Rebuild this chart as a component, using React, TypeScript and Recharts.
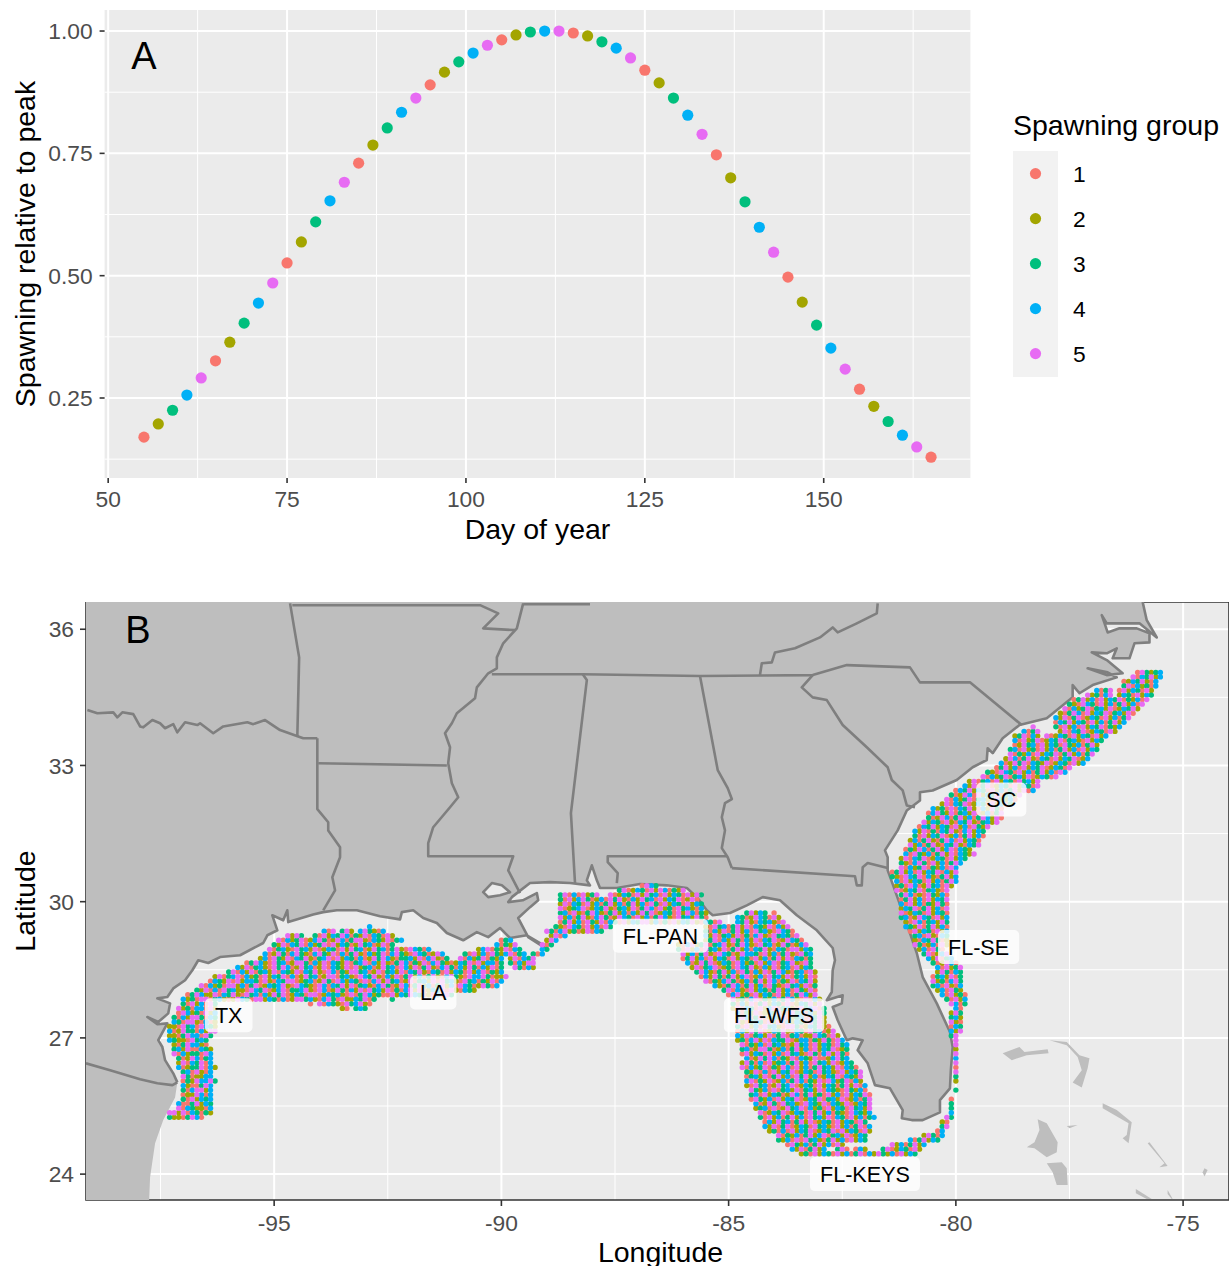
import React from 'react';
import {
  ScatterChart, Scatter, XAxis, YAxis, CartesianGrid, Legend, ReferenceArea,
} from 'recharts';

const FONT = "'Liberation Sans', Arial, sans-serif";
const GROUPS = [1, 2, 3, 4, 5];
const GROUP_COLORS = ['#F8766D', '#A3A500', '#00BF7D', '#00B0F6', '#E76BF3'];

// panel A
const DAYS = [55, 57, 59, 61, 63, 65, 67, 69, 71, 73, 75, 77, 79, 81, 83, 85, 87, 89, 91, 93, 95, 97, 99, 101, 103, 105, 107, 109, 111, 113, 115, 117, 119, 121, 123, 125, 127, 129, 131, 133, 135, 137, 139, 141, 143, 145, 147, 149, 151, 153, 155, 157, 159, 161, 163, 165];
const RELATIVE = [0.17, 0.197, 0.225, 0.256, 0.291, 0.326, 0.364, 0.403, 0.444, 0.485, 0.526, 0.569, 0.61, 0.653, 0.691, 0.73, 0.767, 0.802, 0.834, 0.863, 0.89, 0.916, 0.937, 0.955, 0.971, 0.982, 0.992, 0.998, 1, 1, 0.996, 0.99, 0.978, 0.965, 0.945, 0.92, 0.894, 0.863, 0.828, 0.789, 0.747, 0.7, 0.651, 0.599, 0.548, 0.497, 0.446, 0.399, 0.352, 0.309, 0.268, 0.233, 0.202, 0.174, 0.15, 0.129];
const DAY_GROUPS = [1, 2, 3, 4, 5, 1, 2, 3, 4, 5, 1, 2, 3, 4, 5, 1, 2, 3, 4, 5, 1, 2, 3, 4, 5, 1, 2, 3, 4, 5, 1, 2, 3, 4, 5, 1, 2, 3, 4, 5, 1, 2, 3, 4, 5, 1, 2, 3, 4, 5, 1, 2, 3, 4, 5, 1];
const DAY_TICKS = [50, 75, 100, 125, 150];
const DAY_MINOR = [62.5, 87.5, 112.5, 137.5, 162.5];
const REL_TICKS = [0.25, 0.5, 0.75, 1];
const REL_MINOR = [0.125, 0.375, 0.625, 0.875];

// panel B axes
const LON_TICKS = [-95, -90, -85, -80, -75];
const LON_MINOR = [-97.5, -92.5, -87.5, -82.5, -77.5];
const LAT_TICKS = [24, 27, 30, 33, 36];
const LAT_MINOR = [25.5, 28.5, 31.5, 34.5];

const REGION_NAMES = ['TX', 'LA', 'FL-PAN', 'FL-WFS', 'FL-KEYS', 'FL-SE', 'SC'];
const REGION_LONS = [-96, -91.5, -86.5, -84, -82, -79.5, -79];
const REGION_LATS = [27.5, 28, 29.25, 27.5, 24, 29, 32.25];

// outlines, flat lon,lat lists
const RIO_GRANDE = [-99.14, 26.44, -98.61, 26.29, -97.95, 26.09, -97.57, 26.0, -97.24, 25.96, -97.13, 26.02];
const MEXICO_COAST = [-97.18, 25.69, -97.44, 25.19, -97.62, 24.68, -97.73, 23.93, -97.75, 23.43, -99.14, 23.43];
const US_COAST = [-97.13, 26.02, -97.22, 26.22, -97.4, 26.51, -97.46, 26.8, -97.55, 26.95, -97.35, 27.32, -97.57, 27.3, -97.79, 27.46, -97.55, 27.35, -97.33, 27.54, -97.29, 27.76, -97.57, 27.87, -97.35, 27.9, -97.22, 28.09, -96.96, 28.27, -96.8, 28.49, -96.67, 28.71, -96.45, 28.65, -96.19, 28.78, -95.75, 28.82, -95.24, 29.09, -95.15, 29.26, -94.93, 29.37, -95.04, 29.7, -94.8, 29.59, -94.71, 29.81, -94.69, 29.55, -94.14, 29.72, -93.92, 29.77, -93.62, 29.81, -93.18, 29.81, -92.67, 29.68, -92.23, 29.61, -92.19, 29.77, -91.94, 29.81, -91.72, 29.64, -91.42, 29.53, -91.2, 29.31, -90.84, 29.15, -90.54, 29.33, -90.29, 29.22, -90.03, 29.42, -89.81, 29.2, -89.44, 29.26, -89.15, 29.09, -89.04, 28.98, -89.41, 29.22, -89.63, 29.64, -89.37, 29.88, -89.19, 30.03, -89.22, 30.19, -89.53, 30.03, -89.85, 29.99, -89.77, 30.1, -89.63, 30.21, -89.37, 30.41, -88.93, 30.43, -88.49, 30.41, -88.05, 30.36, -88.12, 30.47, -88.01, 30.8, -87.9, 30.47, -87.83, 30.3, -87.46, 30.3, -86.95, 30.39, -86.36, 30.36, -85.92, 30.3, -85.7, 30.1, -85.48, 29.81, -85.35, 29.7, -84.97, 29.75, -84.6, 29.92, -84.25, 30.1, -83.87, 30.03, -83.5, 29.7, -83.06, 29.37, -82.71, 28.98, -82.66, 28.71, -82.71, 28.49, -82.73, 28.01, -82.84, 27.83, -82.49, 27.94, -82.51, 27.76, -82.71, 27.68, -82.6, 27.39, -82.4, 26.95, -82.27, 26.99, -82.05, 26.95, -82.16, 26.73, -81.94, 26.44, -81.78, 25.96, -81.45, 25.89, -81.17, 25.41, -81.19, 25.23, -80.97, 25.19, -80.73, 25.19, -80.35, 25.36, -80.35, 25.63, -80.13, 25.89, -80.11, 26.29, -80.07, 26.8, -80.13, 27.13, -80.42, 27.76, -80.73, 28.34, -80.86, 28.87, -81.01, 29.31, -81.34, 30.25, -81.5, 30.69, -81.5, 30.98, -81.56, 31.13, -81.28, 31.57, -81.08, 32.01, -80.79, 32.23, -80.79, 32.41, -80.51, 32.45, -79.98, 32.68, -79.63, 32.96, -79.32, 33.12, -79.3, 33.38, -79.19, 33.27, -78.97, 33.6, -78.6, 33.89, -78.0, 34.04, -77.43, 34.5, -77.43, 34.77, -77.28, 34.59, -76.99, 34.77, -76.46, 34.94, -76.66, 35.05, -77.1, 35.14, -76.68, 34.99, -76.33, 35.03, -76.68, 35.32, -77.01, 35.49, -76.68, 35.47, -76.46, 35.58, -76.55, 35.36, -76.18, 35.36, -76.07, 35.69, -75.74, 35.71, -75.74, 35.91, -76.02, 36.02, -76.4, 36.02, -76.66, 35.93, -76.79, 36.31, -76.68, 36.13, -76.33, 36.13, -75.96, 36.13, -75.58, 35.82, -75.8, 36.2, -75.89, 36.6];
const LAKE = [-90.4, 30.21, -90.21, 30.41, -89.99, 30.36, -89.81, 30.21, -90.03, 30.14, -90.29, 30.1];
const STATE_LINES = [
  [-99.11, 34.22, -98.89, 34.15, -98.54, 34.17, -98.45, 34.06, -98.34, 34.17, -98.1, 34.13, -97.95, 33.86, -97.88, 33.84, -97.68, 34.0, -97.51, 33.93, -97.4, 33.82, -97.22, 33.91, -97.13, 33.73, -96.96, 33.95, -96.69, 33.89, -96.63, 33.93, -96.34, 33.71, -96.12, 33.86, -95.59, 33.95, -95.46, 33.91, -95.2, 34.0, -94.87, 33.78, -94.47, 33.64, -94.36, 33.6, -94.05, 33.6],
  [-94.05, 33.6, -94.05, 32.04, -93.81, 31.75, -93.81, 31.57, -93.55, 31.2, -93.55, 30.98, -93.72, 30.54, -93.66, 30.25, -93.92, 29.81],
  [-94.65, 36.57, -94.45, 35.38, -94.49, 33.64],
  [-94.03, 33.05, -91.2, 33.0],
  [-94.6, 36.53, -90.47, 36.53, -90.07, 36.35, -90.4, 36.02, -89.7, 35.98],
  [-89.52, 36.57, -89.66, 36.02, -89.96, 35.69, -90.1, 35.38, -90.1, 35.14, -90.29, 35.03, -90.54, 34.72, -90.58, 34.48, -90.98, 34.15, -91.09, 33.93, -91.24, 33.71, -91.13, 33.4, -91.17, 33.05, -91.09, 32.61, -90.95, 32.3, -91.13, 32.08, -91.5, 31.64, -91.61, 31.29, -91.61, 31.0, -89.74, 31.0, -89.85, 30.69, -89.59, 30.19],
  [-89.52, 36.55, -88.05, 36.55],
  [-90.21, 35.01, -88.21, 35.01, -85.63, 34.97, -83.15, 34.99, -82.4, 35.21, -81.01, 35.16, -80.79, 34.83, -79.69, 34.83, -78.55, 33.89],
  [-83.15, 34.99, -83.39, 34.72, -83.15, 34.5, -82.84, 34.44, -82.49, 33.89, -81.96, 33.4, -81.5, 32.96, -81.41, 32.68, -81.17, 32.45, -81.08, 32.12, -80.9, 32.08],
  [-84.31, 34.99, -84.27, 35.25, -84.05, 35.27, -83.98, 35.49, -83.54, 35.58, -82.99, 35.82, -82.71, 36.04, -82.6, 35.93, -82.18, 36.13, -81.74, 36.35, -81.72, 36.57],
  [-88.21, 35.01, -88.12, 34.88, -88.47, 31.95, -88.38, 30.41],
  [-85.63, 34.97, -85.24, 32.9, -85.02, 32.5, -84.93, 32.26, -85.08, 32.17, -85.15, 31.86, -85.08, 31.57, -85.15, 31.18, -85.02, 30.98, -84.93, 30.74],
  [-87.46, 30.41, -87.44, 30.63, -87.66, 30.87, -87.66, 31.0, -85.04, 31.0],
  [-84.93, 30.74, -82.22, 30.56, -82.18, 30.36, -82.07, 30.36, -82.05, 30.76, -81.94, 30.85, -81.5, 30.74],
];
const BAHAMAS = [
  [-78.97, 26.66, -78.6, 26.8, -78.49, 26.69, -77.98, 26.75, -77.96, 26.66, -78.44, 26.62, -78.77, 26.51],
  [-77.94, 26.95, -77.56, 26.91, -77.28, 26.62, -77.06, 26.55, -77.1, 26.33, -77.23, 25.91, -77.43, 26.02, -77.23, 26.29, -77.32, 26.58, -77.56, 26.84],
  [-76.77, 25.56, -76.46, 25.41, -76.13, 25.14, -76.2, 24.68, -76.33, 24.79, -76.24, 24.86, -76.2, 25.12, -76.77, 25.45],
  [-78.2, 25.21, -78.0, 25.12, -77.76, 24.7, -77.78, 24.48, -78.0, 24.37, -78.27, 24.57, -78.44, 24.59, -78.27, 24.7, -78.16, 24.97],
  [-78.0, 24.24, -77.67, 24.26, -77.56, 24.13, -77.54, 23.76, -77.78, 23.76, -77.87, 24.04],
  [-77.56, 25.06, -77.32, 25.08, -77.5, 25.01],
  [-75.74, 24.7, -75.34, 24.18, -75.52, 24.15, -75.41, 24.24, -75.78, 24.68],
  [-76.04, 23.67, -75.69, 23.45, -75.8, 23.45, -76.04, 23.58],
  [-75.34, 23.65, -75.23, 23.45, -75.25, 23.45, -75.34, 23.56],
  [-74.53, 24.13, -74.46, 24.09, -74.53, 23.95, -74.57, 24.04],
];

// sampled cells, read row by row: [lat, first lon, spawning group of each 0.1 degree cell]
type CellRow = [number, number, string];
const GULF_WEST: CellRow[] = [
  [25.25, -97.3, '32213541'], [25.35, -97.3, '5525143132'], [25.45, -97.1, '51432214'], [25.55, -97.1, '41135243'],
  [25.65, -97.0, '3152434'], [25.75, -97.0, '1225414'], [25.85, -97.0, '3145524'], [25.95, -97.0, '4211354'],
  [26.05, -97.0, '13254453'], [26.15, -97.0, '5312244'], [26.25, -97.0, '3415214'], [26.35, -97.1, '412335142'],
  [26.45, -97.1, '25143514'], [26.55, -97.1, '31254134'], [26.65, -97.2, '514233154'], [26.75, -97.2, '342511432'],
  [26.85, -97.2, '21354421'], [26.95, -97.3, '432215343'], [27.05, -97.3, '2213544153'], [27.15, -97.3, '41253314255'],
  [27.25, -97.3, '22153415432'], [27.35, -97.2, '4315521412'], [27.45, -97.2, '3142553143'], [27.55, -97.1, '154231524'],
  [27.65, -97.1, '523144152'], [27.65, -93.5, '21'], [27.65, -93.2, '343'],
  [27.75, -97.0, '31524153'], [27.75, -94.2, '1'], [27.75, -94.0, '514321534521'],
  [27.85, -97.0, '4231551342 1254315524 3141255342 1453152243 513'], [27.85, -92.4, '3'],
  [27.95, -96.9, '1354225143 5215341425 3512431551 2434215135 4231152435 431254153'],
  [28.05, -96.7, '3251415342 2154351245 1334521541 2531425153 4251314525 1243515214 32'],
  [28.15, -96.6, '5142315524 1351243452 1543215414 3525134214 5312541352 4135241543 125314'],
  [28.25, -96.4, '1432515244 3152143551 2341253154 2431514525 3412513425 1534215341 32514'],
  [28.35, -96.3, '2513451423 1524351412 5341255134 2154352142 5135241352 1453215445 31225'],
  [28.45, -96.0, '3514251342 5143251435 2154132553 4125134251 4352143152 4315245132 4'],
  [28.55, -95.8, '4251342153 5412534125 1432515234 1253415425 1352145314 253142513'], [28.55, -89.7, '53142'],
  [28.65, -95.6, '1354215341 2553142514 3251345142 5213541325 1453212435 1524413'], [28.65, -89.8, '314255'],
  [28.75, -95.3, '2415325143 5213451524 3141253542 1334251452 13'], [28.75, -90.9, '5142351324'], [28.75, -89.8, '251435'],
  [28.85, -95.2, '4125314532 1453251413 5214235145 3215431254'], [28.85, -90.8, '31524153245134'], [28.85, -89.3, '314'],
  [28.95, -95.1, '5134215342 5124315253 4125341352 154314'], [28.95, -90.5, '2451325143'], [28.95, -89.1, '43'],
  [29.05, -95.0, '3251435142 3515243125 3412513'], [29.05, -90.1, '41325'], [29.05, -89.1, '513'],
  [29.15, -94.9, '5142351245 3125413552 14325134'], [29.15, -90.0, '134'], [29.15, -89.0, '254'],
  [29.25, -94.7, '5253'], [29.25, -94.1, '3152435413 25143152'], [29.25, -88.9, '2514'],
  [29.35, -93.9, '415'], [29.35, -93.5, '352'], [29.35, -93.1, '453214'], [29.45, -92.9, '4'],
];
const GULF_PAN: CellRow[] = [
  [29.35, -89.0, '5314523125 143'], [29.45, -88.8, '3215431524 153'],
  [29.55, -88.7, '1352415325 1431524355 2413152435 214'],
  [29.65, -88.7, '5241352145 3125431524 1354215342 531'],
  [29.75, -88.7, '3415213542 1352414253 5124315254 132'],
  [29.85, -88.7, '5123451243 5213425135 4152315342 14'],
  [29.95, -88.7, '2514315241 3524135241 5315243152 43'],
  [30.05, -88.7, '3152453124 1535214253 4152435125 1'],
  [30.15, -88.7, '351'], [30.15, -88.4, '415235'], [30.15, -87.6, '5124315253 4152431525 3'],
  [30.25, -87.4, '351243152541325'], [30.35, -86.9, '1543'],
];
const WFS: CellRow[] = [
  [29.75, -84.6, '35243'], [29.75, -84.0, '1'], [29.65, -84.8, '4312543152'],
  [29.55, -85.5, '2315'], [29.55, -84.8, '43521434215'],
  [29.45, -85.5, '2153413525 143251425'], [29.35, -85.5, '3142513524 1534215431'],
  [29.25, -85.5, '4251342513 1452153431 5'], [29.15, -85.5, '2351425314 2514351254 31'],
  [29.05, -86.1, '2145235134 5213542153 412531245'],
  [28.95, -86.1, '3152415342 5135241435 2143155243'],
  [28.85, -86.0, '5241352154 3125443152 413521534'],
  [28.75, -86.0, '1352415243 1524315241 352514313'],
  [28.65, -85.9, '4125351243 1542315245 13452153'],
  [28.55, -85.8, '2513451231 5435214251 3415243'],
  [28.45, -85.7, '3542135241 5314251354 2134152'],
  [28.35, -85.6, '1425313524 5124153425 134251'],
  [28.25, -85.5, '5132453124 1352541325 14352'],
  [28.15, -85.3, '4213541352 4153215342 513'],
  [28.05, -85.1, '3514215243 1352415325 1'],
  [27.95, -85.0, '1452315243 1524135425'],
  [27.85, -84.9, '5231451324 1354215142'],
  [27.75, -84.9, '3142513524 3151243525'],
  [27.65, -84.9, '2514315245 1342153451 3'],
  [27.55, -84.8, '4132512435 2153414253'],
  [27.45, -84.8, '2541351243 5123415352'],
  [27.35, -84.8, '5213431525 1424315352'],
  [27.25, -84.8, '3152415342 1553124352 1'],
  [27.15, -84.8, '1425351243 5214315341 25'],
  [27.05, -84.8, '4251342513 5134122543 152'],
  [26.95, -84.8, '2314525143 3512441325 3154'],
  [26.85, -84.7, '5132415342 1253415243 1534'],
  [26.75, -84.7, '3412553124 1352415243 5123'],
  [26.65, -84.7, '1524315241 5342153145 2531'],
  [26.55, -84.6, '4125354132 5143251124 534'],
  [26.45, -84.7, '2531415234 1352415342 51243'],
  [26.35, -84.7, '5142351325 4152413534 251431'],
  [26.25, -84.6, '3251415243 5124315342 152435'],
  [26.15, -84.6, '1342513524 1535241243 514325'],
  [26.05, -84.6, '4513251241 3541325154 235142'],
  [25.95, -84.6, '2153412534 5124315243 1352514'],
  [25.85, -84.5, '5324151342 5134251432 153241'],
  [25.75, -84.5, '3415243125 4135231524 1524351'],
  [25.65, -84.5, '1532415243 5124351342 5124135'],
  [25.55, -84.4, '4125315342 1543251432 512435'],
  [25.45, -84.4, '2341512534 5142315243 153425'],
  [25.35, -84.3, '5124351243 1535241321 54324'],
  [25.25, -84.3, '3152413524 1534251431 524134'],
  [25.15, -84.2, '1425341352 5124315243 153'],
  [25.05, -84.2, '4251351243 1534215241 3514'],
  [24.95, -84.1, '2314152435 1243515243 152'],
  [24.85, -83.9, '5132413524 5134251243'],
  [24.75, -83.9, '3241515342 1352415243'],
  [24.65, -83.7, '153241352'], [24.65, -82.8, '4152'],
  [24.55, -83.6, '42513524'], [24.55, -82.6, '351'],
  [24.45, -83.4, '2315243152 4135142532 415243'],
];
const KEYS_SOUTHEAST: CellRow[] = [
  [24.55, -82.2, '142'], [24.55, -81.6, '351243152'], [24.65, -81.4, '52413524'],
  [24.75, -81.0, '4135243'], [24.85, -80.7, '25314'], [24.95, -80.4, '14'], [25.05, -80.3, '35'],
  [25.15, -80.3, '21'], [25.25, -80.2, '53'], [25.35, -80.1, '4'], [25.45, -80.1, '3'], [25.55, -80.1, '3'], [25.65, -80.1, '1'],
  [25.85, -80.0, '3'], [26.05, -80.0, '2'], [26.15, -80.0, '3'], [26.25, -80.0, '5'], [26.35, -80.0, '1'], [26.45, -80.0, '5'],
  [26.55, -80.0, '4'], [26.65, -80.0, '5'], [26.75, -80.0, '2'], [26.85, -80.0, '5'], [26.95, -80.0, '5'],
  [27.05, -80.1, '35'], [27.15, -80.1, '425'], [27.25, -80.1, '143'], [27.35, -80.1, '521'], [27.45, -80.1, '342'],
  [27.55, -80.1, '253'], [27.65, -80.0, '41'], [27.75, -80.1, '5413'], [27.85, -80.2, '31524'], [27.95, -80.3, '415231'],
  [28.05, -80.4, '241532'], [28.15, -80.5, '3415214'], [28.25, -80.5, '5231453'], [28.35, -80.5, '1342513'],
  [28.45, -80.4, '253143'], [28.55, -80.4, '415235'], [28.65, -80.5, '312541'],
  [28.75, -80.6, '425134'], [28.85, -80.7, '351245'], [28.95, -80.8, '241531'],
  [29.05, -80.9, '53124152'], [29.15, -80.9, '21435312'], [29.25, -80.9, '34152143'],
  [29.35, -81.0, '152431524'], [29.45, -81.1, '4325135241'], [29.55, -81.1, '2154134253'],
  [29.65, -81.2, '3412543152 4'], [29.75, -81.2, '5124315243 1'], [29.85, -81.2, '2435135241 5'],
  [29.95, -81.2, '4152413253 1'], [30.05, -81.2, '1352415243 5'], [30.15, -81.2, '3541215324 1'],
  [30.25, -81.3, '5124351342 15'], [30.35, -81.3, '2315412534 152'], [30.45, -81.3, '4152431524 1354'],
  [30.55, -81.4, '3215435142 13524'], [30.65, -81.4, '1352415243 51425'], [30.75, -81.2, '5142351324 154'],
  [30.85, -81.2, '3214531524 1354'], [30.95, -81.2, '2514351243 15243'],
  [31.05, -81.1, '4153241352 514325'], [31.15, -81.1, '1325413524 51432'],
  [31.25, -81.0, '5241352143 521435'], [31.35, -81.0, '2413521354 152431'],
  [31.45, -80.9, '3152435124 135241'], [31.55, -80.9, '4251314352 145243'],
  [31.65, -80.8, '1435243152 415325'], [31.75, -80.7, '5243152143 5213425'],
  [31.85, -80.6, '3125413524 1354251'], [31.95, -80.6, '1453251342 5124135'],
  [32.05, -80.5, '4231514352 142531'], [32.15, -80.3, '2514351243 152413'],
  [32.25, -80.2, '5142351342 153241'], [32.35, -80.1, '3125415243 513425'],
  [32.45, -80.0, '1435243152 41352514'], [32.55, -79.8, '4251351243 1524315'],
  [32.65, -79.7, '2513415243 153425'], [32.75, -79.4, '5142351342 5124315'],
  [32.85, -79.3, '3215431524 13524154'], [32.95, -79.1, '1352415243 5124315'],
  [33.05, -79.0, '4125351432 512431524'], [33.15, -78.9, '2541352143 152435124'],
  [33.25, -78.8, '5132415243 513524135'], [33.35, -78.8, '3415231524 1352415243'],
  [33.45, -78.7, '1253415243 153241352'], [33.55, -78.7, '4152351243 5134215243'],
  [33.65, -78.7, '235142'], [33.65, -78.0, '51243152431524'],
  [33.75, -78.5, '4135'], [33.75, -77.7, '2514351243 152'],
  [33.85, -78.3, '5'], [33.85, -77.8, '3152415243 51324'],
  [33.95, -77.8, '1435243152 413524'], [34.05, -77.8, '4251351243 1524135'],
  [34.15, -77.7, '2135415243 5134251'], [34.25, -77.6, '5142351342 5124352'],
  [34.35, -77.5, '3215431524 1352415'], [34.45, -77.4, '1352415243 5132415'],
  [34.55, -77.1, '523145'], [34.55, -76.4, '24315243'],
  [34.65, -76.9, '4135'], [34.65, -76.4, '15243152'],
  [34.75, -76.3, '35142314'], [34.85, -76.3, '12435214'],
  [34.95, -76.1, '5143524'], [35.05, -76.0, '153234'],
];

function chunk(flat: number[]) {
  const out: { lon: number; lat: number }[] = [];
  for (let i = 0; i < flat.length; i += 2) out.push({ lon: flat[i], lat: flat[i + 1] });
  return out;
}

const cells = [...GULF_WEST, ...GULF_PAN, ...WFS, ...KEYS_SOUTHEAST].flatMap(([lat, lon0, groups]) =>
  groups.replace(/ /g, '').split('').map((g, i) => ({ lon: lon0 + i * 0.1, lat, group: Number(g) })),
);

const dayPoints = DAYS.map((day, i) => ({ day, rel: RELATIVE[i], group: DAY_GROUPS[i] }));
const regions = REGION_NAMES.map((name, i) => ({ name, lon: REGION_LONS[i], lat: REGION_LATS[i] }));

const noDot = () => <g />;

const outline = (fill: string, stroke: string, close: boolean) => (props: any) => {
  const d = props.points.map((p: any, i: number) => `${i ? 'L' : 'M'}${p.x},${p.y}`).join('') + (close ? 'Z' : '');
  return <path d={d} fill={fill} stroke={stroke} strokeWidth={stroke === 'none' ? 0 : 2.6} strokeLinejoin="round" />;
};

const canvas = document.createElement('canvas').getContext('2d');
function RegionLabel(props: any) {
  const { cx, cy, payload } = props;
  let w = payload.name.length * 13;
  if (canvas) {
    canvas.font = `21.6px ${FONT}`;
    w = canvas.measureText(payload.name).width;
  }
  return (
    <g>
      <rect x={cx - w / 2 - 10} y={cy - 17} width={w + 20} height={34} rx={5} fill="#fff" fillOpacity={0.8} />
      <text x={cx} y={cy} dy="0.36em" textAnchor="middle" fontSize={21.6} fill="#000">{payload.name}</text>
    </g>
  );
}

const panelLetter = (letter: string) => (props: any) => (
  <text x={props.cx} y={props.cy} dy="0.36em" textAnchor="middle" fontSize={38} fill="#000">{letter}</text>
);

function GroupLegend() {
  return (
    <div style={{ fontFamily: FONT, color: '#000' }}>
      <div style={{ fontSize: 28.5, lineHeight: '34px', marginBottom: 9 }}>Spawning group</div>
      <svg width={120} height={228} style={{ display: 'block' }}>
        <rect x={0} y={0} width={45} height={226} fill="#F2F2F2" />
        {GROUPS.map((g, i) => (
          <g key={g}>
            <circle cx={22.5} cy={22.6 + i * 45} r={5.6} fill={GROUP_COLORS[i]} />
            <text x={60} y={22.6 + i * 45} dy="0.36em" fontSize={22.8}>{g}</text>
          </g>
        ))}
      </svg>
    </div>
  );
}

const tickStyle = { fontSize: 22.8, fill: '#4D4D4D' };
const tickLine = { stroke: '#333', strokeWidth: 1.6 };
const titleStyle = { fontSize: 28.5, fill: '#000' };

export default function App() {
  return (
    <div style={{ position: 'absolute', left: 0, top: 0, width: 1229, height: 1266, background: '#fff', fontFamily: FONT, overflow: 'hidden' }}>
      <div style={{ position: 'absolute', left: 0, top: 0 }}>
        <ScatterChart width={1229} height={560} margin={{ top: 10, right: 258.6, bottom: 0, left: 0 }}>
          <XAxis
            type="number" dataKey="day" domain={[49.5, 170.5]} ticks={DAY_TICKS} interval={0} height={82} allowDataOverflow
            axisLine={false} tickLine={tickLine} tickSize={5} tickMargin={8} tick={tickStyle}
            label={{ value: 'Day of year', position: 'insideBottom', offset: 21, style: titleStyle }}
          />
          <YAxis
            type="number" dataKey="rel" domain={[0.0865, 1.043]} ticks={REL_TICKS} interval={0} width={104.6} allowDataOverflow
            axisLine={false} tickLine={tickLine} tickSize={5} tickMargin={7} tick={tickStyle}
            tickFormatter={(v: number) => v.toFixed(2)}
            label={{ value: 'Spawning relative to peak', angle: -90, position: 'insideLeft', offset: 25, style: { ...titleStyle, textAnchor: 'middle' } }}
          />
          <CartesianGrid fill="#EBEBEB" stroke="#fff" strokeWidth={1} verticalValues={DAY_MINOR} horizontalValues={REL_MINOR} />
          <CartesianGrid stroke="#fff" strokeWidth={2} verticalValues={DAY_TICKS} horizontalValues={REL_TICKS} />
          {GROUPS.map((g, i) => (
            <Scatter
              key={g} data={dayPoints.filter((p) => p.group === g)} isAnimationActive={false}
              shape={(p: any) => <circle cx={p.cx} cy={p.cy} r={5.6} fill={GROUP_COLORS[i]} />}
            />
          ))}
          <Scatter data={[{ day: 55, rel: 0.95 }]} isAnimationActive={false} shape={panelLetter('A')} />
          <Legend layout="horizontal" align="center" verticalAlign="middle" wrapperStyle={{ left: 1013, top: 108, width: 216 }} content={<GroupLegend />} />
        </ScatterChart>
      </div>
      <div style={{ position: 'absolute', left: 0, top: 602 }}>
        <ScatterChart width={1229} height={664} margin={{ top: 0, right: 0, bottom: 0, left: 0 }}>
          <XAxis
            type="number" dataKey="lon" domain={[-99.14, -73.99]} ticks={LON_TICKS} interval={0} height={66} allowDataOverflow
            axisLine={false} tickLine={tickLine} tickSize={6} tickMargin={9} tick={tickStyle}
            label={{ value: 'Longitude', position: 'insideBottom', offset: 4, dx: 3, style: titleStyle }}
          />
          <YAxis
            type="number" dataKey="lat" domain={[23.43, 36.6]} ticks={LAT_TICKS} interval={0} width={86} allowDataOverflow
            axisLine={false} tickLine={tickLine} tickSize={6} tickMargin={6} tick={tickStyle}
            label={{ value: 'Latitude', angle: -90, position: 'insideLeft', offset: 25, style: { ...titleStyle, textAnchor: 'middle' } }}
          />
          <CartesianGrid fill="#EBEBEB" stroke="#fff" strokeWidth={1} verticalValues={LON_MINOR} horizontalValues={LAT_MINOR} />
          <CartesianGrid stroke="#fff" strokeWidth={2} verticalValues={LON_TICKS} horizontalValues={LAT_TICKS} />
          <Scatter
            data={chunk([-99.14, 36.6, ...RIO_GRANDE, ...US_COAST])} isAnimationActive={false}
            shape={noDot} line={outline('#BEBEBE', 'none', true)}
          />
          <Scatter data={chunk([...RIO_GRANDE, ...MEXICO_COAST])} isAnimationActive={false} shape={noDot} line={outline('#BEBEBE', 'none', true)} />
          {BAHAMAS.map((island, i) => (
            <Scatter key={i} data={chunk(island)} isAnimationActive={false} shape={noDot} line={outline('#BEBEBE', 'none', true)} />
          ))}
          <Scatter data={chunk(LAKE)} isAnimationActive={false} shape={noDot} line={outline('#EBEBEB', '#7F7F7F', true)} />
          {STATE_LINES.map((border, i) => (
            <Scatter key={i} data={chunk(border)} isAnimationActive={false} shape={noDot} line={outline('none', '#7F7F7F', false)} />
          ))}
          <Scatter data={chunk(RIO_GRANDE)} isAnimationActive={false} shape={noDot} line={outline('none', '#7F7F7F', false)} />
          <Scatter data={chunk(US_COAST)} isAnimationActive={false} shape={noDot} line={outline('none', '#7F7F7F', false)} />
          {GROUPS.map((g, i) => (
            <Scatter
              key={g} data={cells.filter((c) => c.group === g)} isAnimationActive={false}
              shape={(p: any) => <circle cx={p.cx} cy={p.cy} r={2.7} fill={GROUP_COLORS[i]} />}
            />
          ))}
          <Scatter data={regions} isAnimationActive={false} shape={RegionLabel} />
          <Scatter data={[{ lon: -98, lat: 36 }]} isAnimationActive={false} shape={panelLetter('B')} />
          <ReferenceArea x1={-99.14} x2={-73.99} y1={23.43} y2={36.6} fill="none" stroke="#333" strokeWidth={1.6} />
        </ScatterChart>
      </div>
    </div>
  );
}
